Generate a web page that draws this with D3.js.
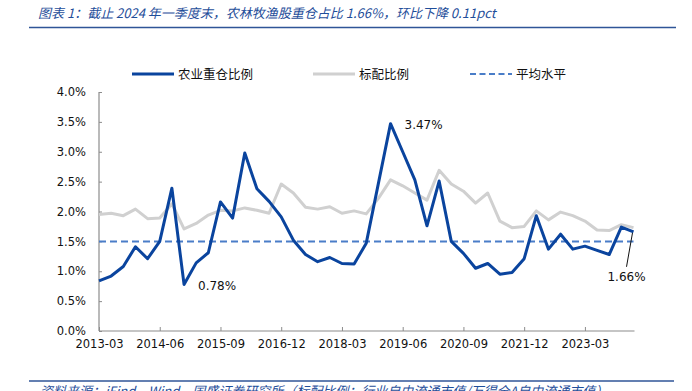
<!DOCTYPE html>
<html><head><meta charset="utf-8">
<script src="https://cdn.jsdelivr.net/npm/d3@7"></script>
<style>body{margin:0;background:#fff}svg{display:block}</style>
</head><body><svg id="c" width="692" height="391"></svg>
<script>
const categories = ["2013-03","2013-06","2013-09","2013-12","2014-03","2014-06","2014-09","2014-12","2015-03","2015-06","2015-09","2015-12","2016-03","2016-06","2016-09","2016-12","2017-03","2017-06","2017-09","2017-12","2018-03","2018-06","2018-09","2018-12","2019-03","2019-06","2019-09","2019-12","2020-03","2020-06","2020-09","2020-12","2021-03","2021-06","2021-09","2021-12","2022-03","2022-06","2022-09","2022-12","2023-03","2023-06","2023-09","2023-12","2024-03"];
const heavyRatio = [0.84,0.92,1.08,1.41,1.21,1.50,2.39,0.78,1.14,1.31,2.16,1.89,2.98,2.38,2.17,1.91,1.52,1.28,1.16,1.23,1.13,1.12,1.47,2.47,3.47,3.00,2.53,1.76,2.51,1.50,1.30,1.05,1.13,0.95,0.98,1.21,1.93,1.37,1.62,1.37,1.42,1.35,1.28,1.74,1.66];
const benchRatio = [1.95,1.97,1.93,2.04,1.88,1.89,2.13,1.71,1.80,1.94,2.02,2.01,2.06,2.02,1.97,2.46,2.31,2.07,2.04,2.08,1.97,2.01,1.96,2.22,2.53,2.43,2.31,2.19,2.69,2.46,2.34,2.14,2.31,1.84,1.73,1.75,2.01,1.86,1.99,1.93,1.84,1.69,1.68,1.78,1.73];
const averageLevel = 1.5;
const xTickLabels = ["2013-03","2014-06","2015-09","2016-12","2018-03","2019-06","2020-09","2021-12","2023-03"];
const yTicks = [0,0.5,1.0,1.5,2.0,2.5,3.0,3.5,4.0];
const seriesNames = ["农业重仓比例","标配比例","平均水平"];
const annotations = [{cat:"2014-12",text:"0.78%"},{cat:"2019-03",text:"3.47%"},{cat:"2024-03",text:"1.66%"}];
const titleText = "图表 1：截止 2024 年一季度末，农林牧渔股重仓占比 1.66%，环比下降 0.11pct";
const sourceText = "资料来源：iFind，Wind，国盛证券研究所（标配比例：行业自由流通市值/万得全A自由流通市值）";

const svg = d3.select("#c");
const L = 99, R = 633.5, T = 92, B = 331;
const x = d3.scalePoint().domain(categories).range([L, R]);
const y = d3.scaleLinear().domain([0, 4]).range([B, T]);
const blue = "#0A449E", gray = "#D0D0D0", dash = "#4A7DC8", axisC = "#8C8C8C";
const titleBlue = "#1F4E9A";

// title
svg.append("text").attr("x", 38).attr("y", 18).attr("fill", titleBlue)
  .attr("font-family", "'Noto Sans CJK SC', sans-serif").attr("font-style", "italic")
  .attr("font-size", 13).text(titleText);
svg.append("line").attr("x1", 29).attr("x2", 676).attr("y1", 27.5).attr("y2", 27.5)
  .attr("stroke", "#2F5597").attr("stroke-width", 1.5);

// bottom source
svg.append("line").attr("x1", 29).attr("x2", 674).attr("y1", 381).attr("y2", 381)
  .attr("stroke", "#2F5597").attr("stroke-width", 1.5);
svg.append("text").attr("x", 40).attr("y", 396).attr("fill", titleBlue)
  .attr("font-family", "'Noto Sans CJK SC', sans-serif").attr("font-style", "italic")
  .attr("font-size", 13).text(sourceText);

// axes
const yAxis = d3.axisLeft(y).tickValues(yTicks).tickSize(-3).tickPadding(13)
  .tickFormat(d => d.toFixed(1) + "%");
const gy = svg.append("g").attr("transform", `translate(${L},0)`).call(yAxis);
const xAxis = d3.axisBottom(x).tickValues(xTickLabels).tickSize(-4).tickPadding(9);
const gx = svg.append("g").attr("transform", `translate(0,${B})`).call(xAxis);
[gx, gy].forEach(g => {
  g.select(".domain").attr("stroke", axisC).attr("stroke-width", 1.2);
  g.selectAll(".tick line").attr("stroke", axisC).attr("stroke-width", 1);
  g.selectAll("text").attr("fill", "#111").attr("font-family", "'DejaVu Sans', sans-serif").attr("font-size", 11.5);
});
gx.select(".domain").attr("d", `M${L},0H${R + 1}`);
gy.select(".domain").attr("d", `M0,${B}V${T}`);

// average
svg.append("line").attr("x1", L).attr("x2", R).attr("y1", y(averageLevel)).attr("y2", y(averageLevel))
  .attr("stroke", dash).attr("stroke-width", 2).attr("stroke-dasharray", "7,4");

const line = d3.line().x((d, i) => x(categories[i])).y(d => y(d));
svg.append("path").datum(benchRatio).attr("d", line).attr("fill", "none")
  .attr("stroke", gray).attr("stroke-width", 3).attr("stroke-linejoin", "round");
svg.append("path").datum(heavyRatio).attr("d", line).attr("fill", "none")
  .attr("stroke", blue).attr("stroke-width", 3).attr("stroke-linejoin", "round");

// annotations
const af = "'DejaVu Sans', sans-serif";
const idx = c => categories.indexOf(c);
const a0 = annotations[0], a1 = annotations[1], a2 = annotations[2];
svg.append("text").attr("x", x(a0.cat) + 14).attr("y", y(heavyRatio[idx(a0.cat)]) + 6)
  .attr("font-family", af).attr("font-size", 12).attr("fill", "#111").text(a0.text);
svg.append("text").attr("x", x(a1.cat) + 14).attr("y", y(heavyRatio[idx(a1.cat)]) + 5)
  .attr("font-family", af).attr("font-size", 12).attr("fill", "#111").text(a1.text);
const p2x = x(a2.cat), p2y = y(heavyRatio[idx(a2.cat)]);
svg.append("line").attr("x1", p2x - 1).attr("y1", p2y + 1).attr("x2", p2x - 7).attr("y2", p2y + 35)
  .attr("stroke", "#111").attr("stroke-width", 1);
svg.append("text").attr("x", p2x - 7).attr("y", p2y + 49).attr("text-anchor", "middle")
  .attr("font-family", af).attr("font-size", 12).attr("fill", "#111").text(a2.text);

// legend
const lg = svg.append("g").attr("font-family", "'Noto Sans CJK SC', sans-serif").attr("font-size", 12.5).attr("fill", "#111");
const legendItems = [
  {x: 132, color: blue, dash: null, w: 3},
  {x: 313, color: gray, dash: null, w: 3},
  {x: 470, color: dash, dash: "6,3.5", w: 2}
];
legendItems.forEach((it, i) => {
  lg.append("line").attr("x1", it.x).attr("x2", it.x + 42).attr("y1", 74).attr("y2", 74)
    .attr("stroke", it.color).attr("stroke-width", it.w).attr("stroke-dasharray", it.dash);
  lg.append("text").attr("x", it.x + 46).attr("y", 78.5).text(seriesNames[i]);
});
</script></body></html>
